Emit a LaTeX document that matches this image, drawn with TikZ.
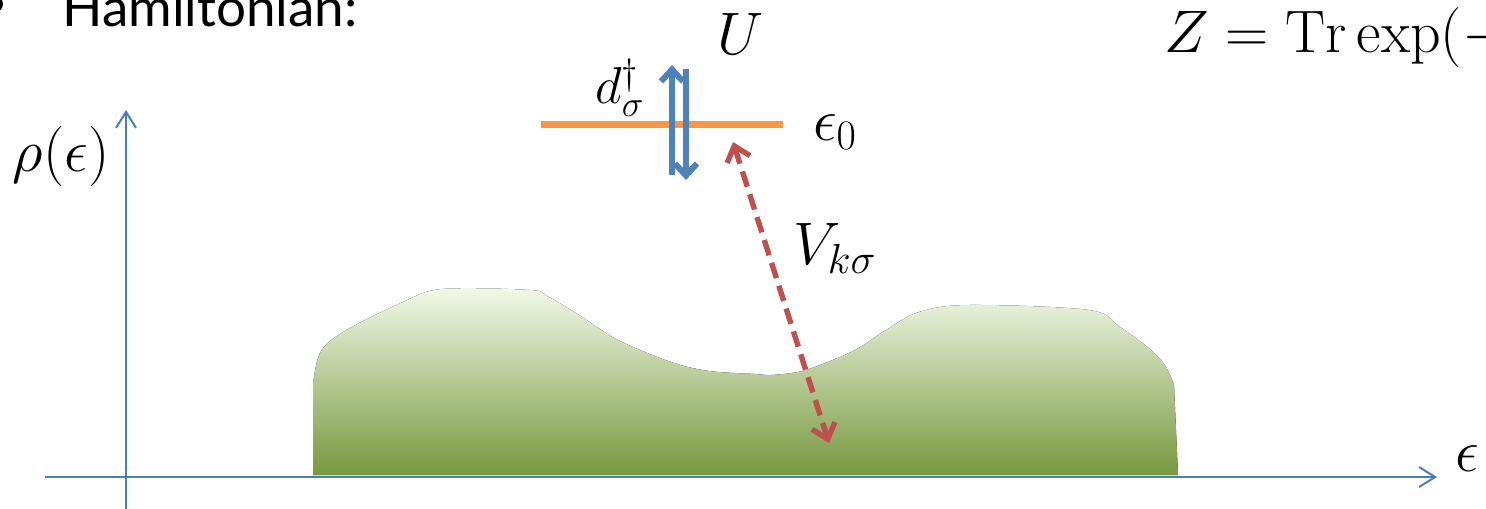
\documentclass[tikz,border=0pt]{standalone}
\usepackage{fix-cm}
\usepackage{amsmath,amssymb}
\usepackage{fontspec}
\newfontfamily\slidefont{Lato}
\usetikzlibrary{arrows.meta}
\definecolor{axisblue}{HTML}{4A7EBB}
\definecolor{spinblue}{HTML}{4F81BD}
\definecolor{levelorange}{HTML}{F79646}
\definecolor{hopred}{HTML}{C0504D}
\definecolor{bandtop}{HTML}{F2F9E8}
\definecolor{bandmid}{HTML}{CADCA6}
\definecolor{bandbot}{HTML}{789840}
\tikzset{
  axisarrow/.style={-{Straight Barb[length=8pt,width=10pt]}, line width=1pt, color=axisblue},
  spinarrow/.style={-{Straight Barb[length=6pt,width=11pt]}, line width=3pt, color=spinblue},
  hoparrow/.style={{Straight Barb[length=7pt,width=12pt]}-{Straight Barb[length=7pt,width=12pt]},
    line width=2.7pt, color=hopred, dash pattern=on 8pt off 4pt},
  mathlbl/.style={inner sep=0pt, font=\fontsize{30}{36}\selectfont}
}

\begin{document}
\begin{tikzpicture}[x=0.5pt, y=-0.5pt]
    \useasboundingbox (0,0) rectangle (1486,508);
    \clip (0,0) rectangle (1486,508);
    \fill (-5,4) circle (8);
    \node[anchor=base west, inner sep=0pt, font=\slidefont\fontsize{26.5}{32}\selectfont] (title) at (62,27) {Hamiltonian:};
    \node[mathlbl, anchor=base west] (zfun) at (1164,53) {$Z = \mathrm{Tr}\exp(-$};
    \fill[top color=bandtop, middle color=bandmid, bottom color=bandbot]
      (313,475) -- plot[smooth, tension=0.55] coordinates {(313,385) (320,353) (343,332) (403,302)
      (442,289) (530,290) (547,296) (579,315) (618,340) (671,362) (709,371) (755,374) (771,375)
      (798,372) (820,365) (855,350) (886,330) (919,312) (969,305) (1089,310) (1120,327)
      (1151,350) (1166,367) (1174,385)} -- (1178,475) -- cycle;
    \coordinate (yfoot) at (126,510);
    \coordinate (ytip) at (126,110);
    \coordinate (xfoot) at (45,477);
    \coordinate (xtip) at (1437,477);
    \draw[axisarrow] (yfoot) -- (ytip);
    \draw[axisarrow] (xfoot) -- (xtip);
    \node[mathlbl] (rho) at (61,157) {$\rho(\epsilon)$};
    \node[mathlbl, anchor=west] (eps) at (1455,459) {$\epsilon$};
    \coordinate (lvlL) at (541,124);
    \coordinate (lvlR) at (783,124);
    \draw[levelorange, line width=3.5pt] (lvlL) -- (lvlR);
    \coordinate (upS) at (672,175);
    \coordinate (upE) at (672,65);
    \coordinate (dnS) at (686,69);
    \coordinate (dnE) at (686,180);
    \draw[spinarrow] (upS) -- (upE);
    \draw[spinarrow] (dnS) -- (dnE);
    \node[mathlbl] (hubU) at (741,34) {$U$};
    \node[inner sep=0pt, font=\fontsize{26}{30}\selectfont] (dop) at (620,88) {$d_\sigma^\dagger$};
    \node[mathlbl] (eps0) at (835,132) {$\epsilon_0$};
    \coordinate (hopA) at (733,142);
    \coordinate (hopB) at (829,443);
    \draw[hoparrow] (hopA) -- (hopB);
    \node[mathlbl] (vks) at (835,248) {$V_{k\sigma}$};
  \end{tikzpicture}
\end{document}
